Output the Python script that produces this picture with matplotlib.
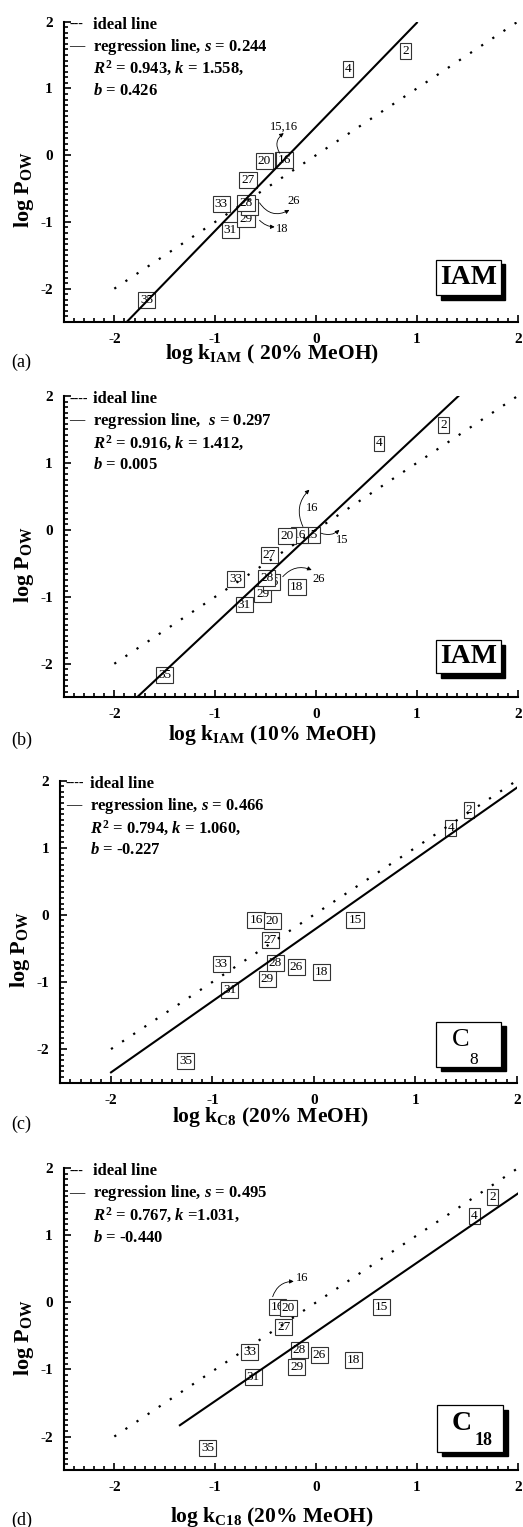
import matplotlib
matplotlib.use("Agg")
import matplotlib.pyplot as plt
from matplotlib.patches import Rectangle
from matplotlib.ticker import MultipleLocator, AutoMinorLocator

plt.rcParams["font.family"] = ["Liberation Serif", "DejaVu Serif"]
plt.rcParams["mathtext.fontset"] = "custom"
plt.rcParams["mathtext.rm"] = "Liberation Serif:bold"
plt.rcParams["mathtext.bf"] = "Liberation Serif:bold"
plt.rcParams["mathtext.it"] = "Liberation Serif:italic:bold"
plt.rcParams["axes.unicode_minus"] = False

# -- Data ---------------------------------------------------------------------
# compounds, in drawing order (hidden ones first)
compounds = ["35", "31", "18", "29", "26", "28", "33", "27", "15", "16", "20", "4", "2"]
log_pow = [-2.172, -1.115, -0.855, -0.962, -0.78, -0.715, -0.735, -0.37,
           -0.075, -0.075, -0.09, 1.29, 1.565]

log_k_iam20 = [-1.679, -0.85, -0.69, -0.694, -0.66, -0.694, -0.942, -0.674,
               -0.32, -0.314, -0.512, 0.317, 0.886]
log_k_iam10 = [-1.50, -0.712, -0.189, -0.53, -0.44, -0.49, -0.795, -0.464,
               -0.05, -0.166, -0.288, 0.623, 1.265]
log_k_c8 = [-1.266, -0.829, 0.072, -0.46, -0.171, -0.378, -0.914, -0.428,
            0.405, -0.569, -0.411, 1.349, 1.53]
log_k_c18 = [-1.074, -0.621, 0.374, -0.192, 0.033, -0.165, -0.655, -0.321,
             0.651, -0.38, -0.274, 1.57, 1.752]

# regression statistics
k_vals = [1.558, 1.412, 1.060, 1.031]
b_vals = [0.426, 0.005, -0.227, -0.440]
reg_x_range = [(-2.0, 1.0), (-2.0, 1.417), (-2.0, 2.0), (-1.35, 2.0)]
ideal_x = [-2, 2]

xlabels = [r"log k$_{\mathrm{IAM}}$ ( 20% MeOH)",
           r"log k$_{\mathrm{IAM}}$ (10% MeOH)",
           r"log k$_{\mathrm{C8}}$ (20% MeOH)",
           r"log k$_{\mathrm{C18}}$ (20% MeOH)"]
panel_letters = ["(a)", "(b)", "(c)", "(d)"]
legend_rows = [
    ["---", "—", r"regression line, $s$ = 0.244", r"$R^2$ = 0.943, $k$ = 1.558,", r"$b$ = 0.426"],
    ["----", "—", r"regression line,  $s$ = 0.297", r"$R^2$ = 0.916, $k$ = 1.412,", r"$b$ = 0.005"],
    ["----", "—", r"regression line, $s$ = 0.466", r"$R^2$ = 0.794, $k$ = 1.060,", r"$b$ = -0.227"],
    ["---", "—", r"regression line, $s$ = 0.495", r"$R^2$ = 0.767, $k$ =1.031,", r"$b$ = -0.440"],
]

# arrow callouts: (label, label pos, arrow tail, arrow head, curvature)
callouts = [
    [("15,16", (-0.32, 0.43), (-0.36, 0.03), (-0.32, 0.33), -0.45),
     ("26", (-0.225, -0.684), (-0.56, -0.714), (-0.264, -0.82), 0.45),
     ("18", (-0.337, -1.103), (-0.56, -0.975), (-0.41, -1.075), 0.2)],
    [("16", (-0.043, 0.333), (-0.13, 0.05), (-0.066, 0.60), -0.35),
     ("15", (0.255, -0.149), (0.05, -0.05), (0.232, 0.0), 0.3),
     ("26", (0.026, -0.736), (-0.33, -0.70), (-0.043, -0.60), -0.35)],
    [],
    [("16", (-0.139, 0.364), (-0.43, 0.085), (-0.221, 0.314), -0.35)],
]

# -- Layout -------------------------------------------------------------------
axes_rects = [
    [0.1222, 0.7891, 0.8677, 0.1967],
    [0.1222, 0.5434, 0.8677, 0.1973],
    [0.1153, 0.2910, 0.8727, 0.1978],
    [0.1222, 0.0373, 0.8677, 0.1976],
]
xlabel_y = [-0.123, -0.142, -0.129, -0.171]
letter_y = [0.763, 0.515, 0.2637, 0.0046]
tag_boxes = [(0.82, 0.09, 0.143, 0.117), (0.82, 0.08, 0.143, 0.11),
             (0.823, 0.053, 0.143, 0.149), (0.823, 0.061, 0.145, 0.154)]

fig = plt.figure(figsize=(5.23, 15.27), dpi=100)

all_k = [log_k_iam20, log_k_iam10, log_k_c8, log_k_c18]

for i in range(4):
    ax = fig.add_axes(axes_rects[i])
    ax.set_xlim(-2.5, 2)
    ax.set_ylim(-2.5, 2)
    for side in ("top", "right"):
        ax.spines[side].set_visible(False)
    for side in ("left", "bottom"):
        ax.spines[side].set_linewidth(1.5)

    ax.xaxis.set_major_locator(MultipleLocator(1))
    ax.yaxis.set_major_locator(MultipleLocator(1))
    ax.xaxis.set_minor_locator(AutoMinorLocator(10))
    ax.yaxis.set_minor_locator(AutoMinorLocator(12))
    ax.tick_params(which="both", direction="in", width=1.2)
    ax.tick_params(which="major", length=5, pad=8, labelsize=11)
    ax.tick_params(which="minor", length=2.8)
    for lab in ax.get_xticklabels() + ax.get_yticklabels():
        lab.set_fontweight("bold")

    # ideal line and regression line
    ax.plot(ideal_x, ideal_x, color="black", lw=1.6, linestyle=(0, (1, 5)), zorder=4)
    x0, x1 = reg_x_range[i]
    ax.plot([x0, x1], [k_vals[i] * x0 + b_vals[i], k_vals[i] * x1 + b_vals[i]],
            color="black", lw=1.5, zorder=4)

    # compound boxes
    for lab, xv, yv in zip(compounds, all_k[i], log_pow):
        ax.text(xv, yv, lab, ha="center", va="center", fontsize=9.5,
                bbox=dict(boxstyle="square,pad=0.15", fc="white", ec="#333", lw=0.8),
                zorder=3)

    # callouts
    for lab, lpos, tail, head, rad in callouts[i]:
        ax.annotate("", xy=head, xytext=tail,
                    arrowprops=dict(arrowstyle="-|>", lw=0.6, color="black",
                                    mutation_scale=6, shrinkA=0, shrinkB=0,
                                    connectionstyle=f"arc3,rad={rad}"),
                    zorder=5)
        ax.text(lpos[0], lpos[1], lab, ha="center", va="center", fontsize=9, zorder=5)

    # legend block
    rows = legend_rows[i]
    ax.text(0.012, 0.99, rows[0], transform=ax.transAxes, fontsize=10, va="center")
    ax.text(0.065, 0.99, "ideal line", transform=ax.transAxes, fontsize=12,
            fontweight="bold", va="center")
    ax.text(0.012, 0.917, rows[1], transform=ax.transAxes, fontsize=11, va="center")
    ax.text(0.065, 0.917, rows[2], transform=ax.transAxes, fontsize=12,
            fontweight="bold", va="center")
    ax.text(0.065, 0.843, rows[3], transform=ax.transAxes, fontsize=12,
            fontweight="bold", va="center")
    ax.text(0.065, 0.77, rows[4], transform=ax.transAxes, fontsize=12,
            fontweight="bold", va="center")

    # stationary-phase tag with drop shadow
    bx, by, bw, bh = tag_boxes[i]
    ax.add_patch(Rectangle((bx + 0.010, by - 0.015), bw, bh, transform=ax.transAxes,
                           fc="black", ec="black", zorder=6, clip_on=False))
    ax.add_patch(Rectangle((bx, by), bw, bh, transform=ax.transAxes,
                           fc="white", ec="black", lw=0.9, zorder=7, clip_on=False))
    cx, cy = bx + bw / 2, by + bh / 2
    if i < 2:
        ax.text(cx, cy, "IAM", transform=ax.transAxes, fontsize=20, fontweight="bold",
                ha="center", va="center", zorder=8)
    elif i == 2:
        ax.text(0.877, 0.141, "C", transform=ax.transAxes, fontsize=19,
                ha="center", va="center", zorder=8)
        ax.text(0.906, 0.075, "8", transform=ax.transAxes, fontsize=12.5,
                ha="center", va="center", zorder=8)
    else:
        ax.text(0.877, 0.155, "C", transform=ax.transAxes, fontsize=20, fontweight="bold",
                ha="center", va="center", zorder=8)
        ax.text(0.925, 0.098, "18", transform=ax.transAxes, fontsize=13, fontweight="bold",
                ha="center", va="center", zorder=8)

    # axis labels
    ax.text(-0.089, 0.44, r"log P$_{\mathrm{OW}}$", transform=ax.transAxes,
            rotation=90, fontsize=16, fontweight="bold", ha="center", va="center")
    ax.text(0.459, xlabel_y[i], xlabels[i], transform=ax.transAxes,
            fontsize=15.5, fontweight="bold", ha="center", va="baseline")

    fig.text(0.041, letter_y[i], panel_letters[i], fontsize=13, ha="center", va="center")

fig.savefig("out.png", dpi=100)
